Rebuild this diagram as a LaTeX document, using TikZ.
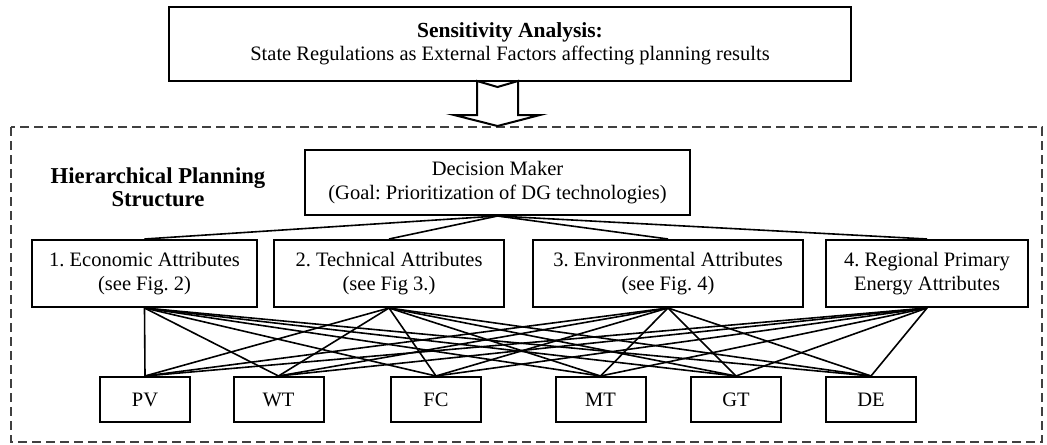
\documentclass[tikz,border=0pt]{standalone}
\usepackage{fontspec}
\setmainfont{Liberation Serif}
\begin{document}
\frenchspacing
\begin{tikzpicture}[x=0.5pt,y=-0.5pt,
  box/.style={draw, line width=1pt, align=center, inner sep=0pt, fill=white,
    font=\fontsize{10.25pt}{11.6pt}\selectfont\frenchspacing},
  link/.style={line width=0.8pt},
  frame/.style={draw=black!75, line width=0.8pt, dash pattern=on 4.5pt off 2.5pt}]
\useasboundingbox (0,0) rectangle (1047,444);
% dashed frame
\draw[frame] (11,127) rectangle (1042,442);
% top box
\node[box, minimum width=341pt, minimum height=37pt] (sa) at (510,44)
  {{\fontsize{10.75pt}{11.6pt}\selectfont\bfseries Sensitivity Analysis:}\\State Regulations as External Factors affecting planning results};
% block arrow
\coordinate (t1) at (477,81);
\draw[line width=1pt, fill=white] (t1) -- (497.5,87) -- (518,81) -- (518,115) -- (540,115) -- (497.5,126) -- (454,115) -- (477,115) -- cycle;
% heading
\node[align=center, inner sep=0pt, font=\fontsize{11.35pt}{11.5pt}\selectfont\bfseries] (hps) at (158,187) {Hierarchical Planning\\Structure};
% decision maker
\node[box, minimum width=192.5pt, minimum height=32.5pt] (dm) at (497.5,182.5)
  {Decision Maker\\(Goal: Prioritization of DG technologies)};
% attributes
\node[box, minimum width=112.5pt, minimum height=33.5pt] (a1) at (144.5,273.5) {1. Economic Attributes\\(see Fig. 2)};
\node[box, minimum width=115pt, minimum height=33.5pt] (a2) at (389,273.5) {2. Technical Attributes\\(see Fig 3.)};
\node[box, minimum width=135pt, minimum height=33.5pt] (a3) at (668,273.5) {3. Environmental Attributes\\(see Fig. 4)};
\node[box, minimum width=101pt, minimum height=33.5pt] (a4) at (927,273.5) {4. Regional Primary\\Energy Attributes};
% technologies
\node[box, minimum width=45pt, minimum height=22.5pt] (pv) at (145,399.5) {PV};
\node[box, minimum width=45pt, minimum height=22.5pt] (wt) at (278.5,399.5) {WT};
\node[box, minimum width=45pt, minimum height=22.5pt] (fc) at (436,399.5) {FC};
\node[box, minimum width=45pt, minimum height=22.5pt] (mt) at (600.5,399.5) {MT};
\node[box, minimum width=45pt, minimum height=22.5pt] (gt) at (736,399.5) {GT};
\node[box, minimum width=45pt, minimum height=22.5pt] (de) at (871,399.5) {DE};
% connectors
\foreach \a in {a1,a2,a3,a4} {
  \draw[link] (dm.south) -- (\a.north);
  \foreach \b in {pv,wt,fc,mt,gt,de}
    \draw[link] (\a.south) -- (\b.north);
}
\end{tikzpicture}
\end{document}
